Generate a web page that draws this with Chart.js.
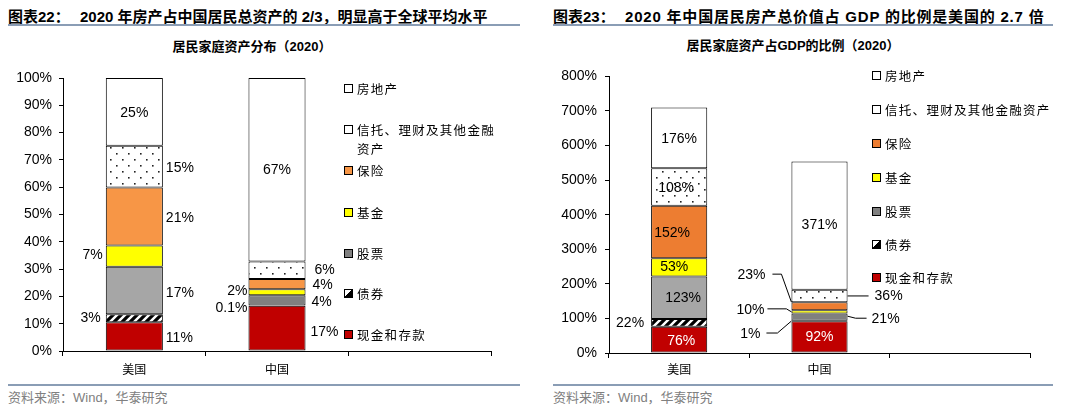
<!DOCTYPE html>
<html>
<head>
<meta charset="utf-8">
<script src="https://cdn.jsdelivr.net/npm/chart.js@4.4.0/dist/chart.umd.min.js"></script>
<style>
  html, body { margin:0; padding:0; background:#fff; }
  #wrap { position:relative; width:1080px; height:410px; overflow:hidden; font-family:"Liberation Sans","Noto Sans CJK SC",sans-serif; }
  .title { position:absolute; font-size:15px; font-weight:bold; color:#000; white-space:nowrap; line-height:20px; }
  .sub { position:absolute; font-size:13px; font-weight:bold; color:#000; white-space:nowrap; line-height:18px; transform:translateX(-50%); }
  .rule { position:absolute; height:2px; background:#8A9DB5; }
  .src { position:absolute; font-size:13px; color:#808080; white-space:nowrap; line-height:18px; font-family:"Liberation Sans","Noto Sans CJK SC",sans-serif; }
  .box { position:absolute; }
  .leg { position:absolute; font-family:"Noto Sans CJK SC",sans-serif; font-size:12.5px; letter-spacing:1.3px; color:#000; line-height:19px; }
  .leg .sw { position:absolute; left:0; width:7px; height:7px; border:1px solid #000; }
  .leg .tx { position:absolute; left:13px; top:0; }
</style>
</head>
<body>
<div id="wrap">
  <div class="title" style="left:8px;top:7px">图表22：</div>
  <div class="title" style="left:80px;top:7px">2020 年房产占中国居民总资产的 2/3，明显高于全球平均水平</div>
  <div class="rule" style="left:8px;top:24px;width:512px"></div>
  <div class="sub" style="left:252px;top:38px">居民家庭资产分布（2020）</div>

  <div class="title" style="left:553px;top:7px">图表23：</div>
  <div class="title" style="left:625px;top:7px;letter-spacing:0.8px">2020 年中国居民房产总价值占 GDP 的比例是美国的 2.7 倍</div>
  <div class="rule" style="left:553px;top:24px;width:500px"></div>
  <div class="sub" style="left:793px;top:37px">居民家庭资产占GDP的比例（2020）</div>

  <div class="box" style="left:0;top:60px;width:540px;height:320px"><canvas id="c1"></canvas></div>
  <div class="box" style="left:540px;top:60px;width:540px;height:320px"><canvas id="c2"></canvas></div>

  <div class="rule" style="left:8px;top:384px;width:512px"></div>
  <div class="rule" style="left:553px;top:384px;width:500px"></div>
  <div class="src" style="left:8px;top:389px">资料来源：Wind，华泰研究</div>
  <div class="src" style="left:553px;top:389px">资料来源：Wind，华泰研究</div>
  <div id="legends"></div>
</div>
<script>
// ---------- data ----------
const categories = ['美国', '中国', ''];
const seriesNames = ['现金和存款', '债券', '股票', '基金', '保险', '信托、理财及其他金融资产', '房地产'];

// Chart 22: share of household assets (%)
const shareCash       = [10.5, 16.6];
const shareBond       = [3.0, 0.1];
const shareStock      = [17.4, 3.7];
const shareFund       = [7.7, 2.2];
const shareInsurance  = [21.3, 3.8];
const shareTrust      = [15.3, 6.4];
const shareRealEstate = [24.8, 67.2];
const shareLabelText = [
  ['11%', '17%'], ['3%', '0.1%'], ['17%', '4%'], ['7%', '2%'],
  ['21%', '4%'], ['15%', '6%'], ['25%', '67%']
];

// Chart 23: household assets as % of GDP
const gdpCash       = [76, 92];
const gdpBond       = [22, 1];
const gdpStock      = [123, 21];
const gdpFund       = [53, 10];
const gdpInsurance  = [152, 23];
const gdpTrust      = [108, 36];
const gdpRealEstate = [176, 371];

const shareTicks = { min: 0, max: 100, step: 10 };
const gdpTicks   = { min: 0, max: 800, step: 100 };

// ---------- styles ----------
function dotPattern() {
  const c = document.createElement('canvas'); c.width = 12; c.height = 12;
  const g = c.getContext('2d');
  g.fillStyle = '#fff'; g.fillRect(0, 0, 12, 12);
  g.fillStyle = '#222';
  g.fillRect(2, 3, 1.6, 1.6); g.fillRect(8, 9, 1.6, 1.6);
  return g.createPattern(c, 'repeat');
}
function stripePattern() {
  const c = document.createElement('canvas'); c.width = 8; c.height = 8;
  const g = c.getContext('2d');
  g.fillStyle = '#fff'; g.fillRect(0, 0, 8, 8);
  g.strokeStyle = '#000'; g.lineWidth = 3.2;
  g.beginPath();
  g.moveTo(-2, 10); g.lineTo(10, -2);
  g.moveTo(-6, 6); g.lineTo(6, -6);
  g.moveTo(2, 14); g.lineTo(14, 2);
  g.stroke();
  return g.createPattern(c, 'repeat');
}
const DOTS = dotPattern(), STRIPES = stripePattern();

const leftColors  = ['#C00000', STRIPES, ['#A6A6A6', '#808080'], '#FFFF00', '#F79646', DOTS, '#FFFFFF'];
const rightColors = ['#C00000', STRIPES, ['#A6A6A6', '#808080'], '#FFFF00', '#ED7D31', DOTS, '#FFFFFF'];

// label placement: p = c(centre) / l(left of bar) / r(right of bar); dx,dy offsets; line = leader polyline
const leftPlace = [
  [{p:'r',dx:3,dy:2},  {p:'r',dx:5,dy:4}],
  [{p:'l',dx:-5,dy:0}, {p:'l',dx:-1,dy:3}],
  [{p:'r',dx:3,dy:3},  {p:'r',dx:6,dy:2}],
  [{p:'l',dx:-3,dy:-1},{p:'l',dx:-1,dy:-1}],
  [{p:'r',dx:3,dy:2},  {p:'r',dx:7,dy:1}],
  [{p:'r',dx:3,dy:2},  {p:'r',dx:9,dy:0}],
  [{p:'c',dx:0,dy:1},  {p:'c',dx:0,dy:0}]
];
const rightPlace = [
  [{p:'c',dx:2,dy:2,color:'#fff'}, {p:'c',dx:0,dy:0,color:'#fff'}],
  [{p:'l',dx:-7,dy:0}, {p:'l',dx:-31,dy:13,line:[[0,0],[-14,12],[-25,12]]}],
  [{p:'c',dx:4,dy:0},  {p:'r',dx:24,dy:2,line:[[0,-1],[8,1],[19,1]]}],
  [{p:'c',dx:-5,dy:0}, {p:'l',dx:-27,dy:-2,line:[[0,0],[-5,-3],[-24,-3]]}],
  [{p:'c',dx:-7,dy:1}, {p:'l',dx:-26,dy:-31,line:[[0,-4],[-10,-32],[-19,-32]]}],
  [{p:'c',dx:-3,dy:1}, {p:'r',dx:27,dy:0,line:[[0,0],[21,0]]}],
  [{p:'c',dx:0,dy:1},  {p:'c',dx:0,dy:0}]
];

const labelPlugin = {
  id: 'segLabels',
  afterDatasetsDraw(chart, args, opts) {
    const ctx = chart.ctx;
    ctx.save();
    ctx.font = '14px "Liberation Sans", Arial, sans-serif';
    ctx.textBaseline = 'middle';
    chart.data.datasets.forEach((ds, i) => {
      const meta = chart.getDatasetMeta(i);
      meta.data.forEach((el, j) => {
        const spec = opts.place[i] && opts.place[i][j];
        if (!spec) return;
        const text = opts.text(i, j);
        const segC = (el.y + el.base) / 2;
        const half = el.width / 2;
        let ax = el.x;
        if (spec.p === 'l') ax = el.x - half;
        if (spec.p === 'r') ax = el.x + half;
        if (spec.line) {
          ctx.strokeStyle = '#000'; ctx.lineWidth = 1;
          ctx.beginPath();
          spec.line.forEach((pt, k) => {
            const px = ax + pt[0], py = segC + pt[1];
            if (k === 0) ctx.moveTo(px, py); else ctx.lineTo(px, py);
          });
          ctx.stroke();
        }
        ctx.fillStyle = spec.color || '#000';
        ctx.textAlign = spec.p === 'l' ? 'right' : (spec.p === 'r' ? 'left' : 'center');
        ctx.fillText(text, ax + spec.dx, segC + spec.dy);
      });
    });
    ctx.restore();
  }
};

function makeChart(id, values, colors, ticks, place, textFn, pad, yW, xH, yPad, xPad) {
  const datasets = values.map((v, i) => ({
    label: seriesNames[i],
    data: v,
    backgroundColor: colors[i],
    borderColor: '#000',
    borderWidth: 1,
    borderSkipped: false,
    barPercentage: 0.4,
    categoryPercentage: 1.0
  }));
  return new Chart(document.getElementById(id), {
    type: 'bar',
    data: { labels: categories, datasets },
    plugins: [labelPlugin],
    options: {
      responsive: true,
      maintainAspectRatio: false,
      animation: false,
      layout: { padding: pad },
      plugins: {
        legend: { display: false },
        tooltip: { enabled: false },
        segLabels: { place, text: textFn }
      },
      scales: {
        x: {
          stacked: true,
          afterFit(s) { s.height = xH; },
          grid: { display: true, drawOnChartArea: false, drawTicks: true, tickLength: 5, color: '#000', offset: true },
          border: { display: true, color: '#000', width: 1 },
          ticks: { color: '#000', padding: xPad, font: { family: '"Noto Sans CJK SC", sans-serif', size: 12 } }
        },
        y: {
          stacked: true,
          min: ticks.min, max: ticks.max,
          afterFit(s) { s.width = yW; },
          grid: { display: true, drawOnChartArea: false, drawTicks: true, tickLength: 4, color: '#000' },
          border: { display: true, color: '#000', width: 1 },
          ticks: { stepSize: ticks.step, color: '#000', padding: yPad,
                   font: { family: '"Liberation Sans", Arial, sans-serif', size: 14 },
                   callback: v => v + '%' }
        }
      }
    }
  });
}

makeChart('c1',
  [shareCash, shareBond, shareStock, shareFund, shareInsurance, shareTrust, shareRealEstate],
  leftColors, shareTicks, leftPlace, (i, j) => shareLabelText[i][j],
  { left: 0, right: 49, top: 18, bottom: 0 }, 63, 29, 7, 6);

const gdpSeries = [gdpCash, gdpBond, gdpStock, gdpFund, gdpInsurance, gdpTrust, gdpRealEstate];
makeChart('c2', gdpSeries, rightColors, gdpTicks, rightPlace, (i, j) => gdpSeries[i][j] + '%',
  { left: 0, right: 50, top: 14, bottom: 0 }, 69, 27, 8, 4);

// ---------- legends (HTML text) ----------
const legendSwatch = {
  '房地产': 'background:#fff',
  '信托、理财及其他金融资产': 'background:#fff',
  '保险L': 'background:#F79646', '保险R': 'background:#ED7D31',
  '基金': 'background:#FFFF00',
  '股票': 'background:#808080',
  '债券': 'background:linear-gradient(135deg,#fff 45%,#000 45%)',
  '现金和存款': 'background:#C00000'
};
function buildLegend(x, centers, side, wrapWidth) {
  const root = document.getElementById('legends');
  const names = seriesNames.slice().reverse();
  names.forEach((n, k) => {
    const d = document.createElement('div');
    d.className = 'leg';
    d.style.left = x + 'px';
    d.style.top = (centers[k] - 9.5) + 'px';
    const key = n === '保险' ? '保险' + side : n;
    const sw = document.createElement('span');
    sw.className = 'sw';
    sw.style.cssText = legendSwatch[key];
    sw.style.top = '5px';
    const tx = document.createElement('span');
    tx.className = 'tx';
    tx.textContent = n;
    if (wrapWidth) { tx.style.width = wrapWidth + 'px'; tx.style.wordBreak = 'break-all'; }
    else tx.style.whiteSpace = 'nowrap';
    d.appendChild(sw); d.appendChild(tx);
    root.appendChild(d);
  });
}
buildLegend(344, [88, 129, 170, 212, 253, 293, 334], 'L', 148);
buildLegend(872, [75, 109, 143, 177, 211, 244, 277], 'R', 0);
</script>
</body>
</html>
